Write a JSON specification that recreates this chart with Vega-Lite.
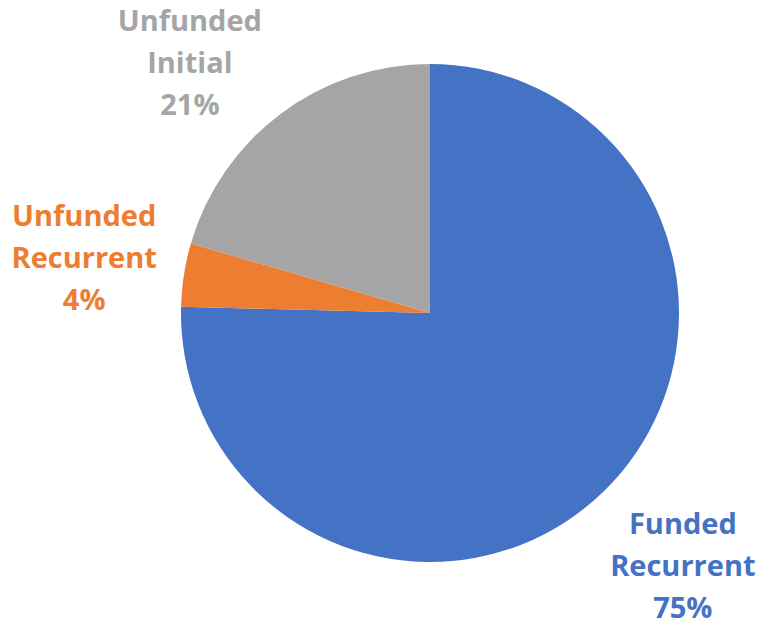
{
  "$schema": "https://vega.github.io/schema/vega-lite/v6.json",
  "width": 684,
  "height": 626,
  "autosize": "none",
  "padding": {"left": 88, "top": 0, "right": 0, "bottom": 3},
  "background": "white",
  "config": {"view": {"stroke": null}},
  "data": {
    "values": [
      {"category": "Funded Recurrent", "value": 75.4, "label": "Funded\nRecurrent\n75%", "ord": 1},
      {"category": "Unfunded Recurrent", "value": 4.1, "label": "Unfunded\nRecurrent\n4%", "ord": 2},
      {"category": "Unfunded Initial", "value": 20.5, "label": "Unfunded\nInitial\n21%", "ord": 3}
    ]
  },
  "encoding": {
    "theta": {"field": "value", "type": "quantitative", "stack": true},
    "order": {"field": "ord", "type": "quantitative"},
    "color": {
      "field": "category",
      "type": "nominal",
      "scale": {
        "domain": ["Funded Recurrent", "Unfunded Recurrent", "Unfunded Initial"],
        "range": ["#4472C4", "#ED7D31", "#A5A5A5"]
      },
      "legend": null
    }
  },
  "layer": [
    {
      "mark": {"type": "arc", "outerRadius": 249}
    },
    {
      "mark": {
        "type": "text",
        "radius": 355,
        "dx": 5,
        "dy": -42,
        "font": "Open Sans",
        "fontWeight": "bold",
        "fontSize": 29,
        "lineBreak": "\n",
        "lineHeight": 42,
        "align": "center",
        "baseline": "middle"
      },
      "encoding": {
        "text": {
          "condition": {"test": "datum.category !== 'Unfunded Initial'", "field": "label"},
          "value": ""
        }
      }
    },
    {
      "mark": {
        "type": "text",
        "radius": 350,
        "dx": -30,
        "dy": -11,
        "font": "Open Sans",
        "fontWeight": "bold",
        "fontSize": 29,
        "lineBreak": "\n",
        "lineHeight": 42,
        "align": "center",
        "baseline": "middle"
      },
      "encoding": {
        "text": {
          "condition": {"test": "datum.category === 'Unfunded Initial'", "field": "label"},
          "value": ""
        }
      }
    }
  ]
}
